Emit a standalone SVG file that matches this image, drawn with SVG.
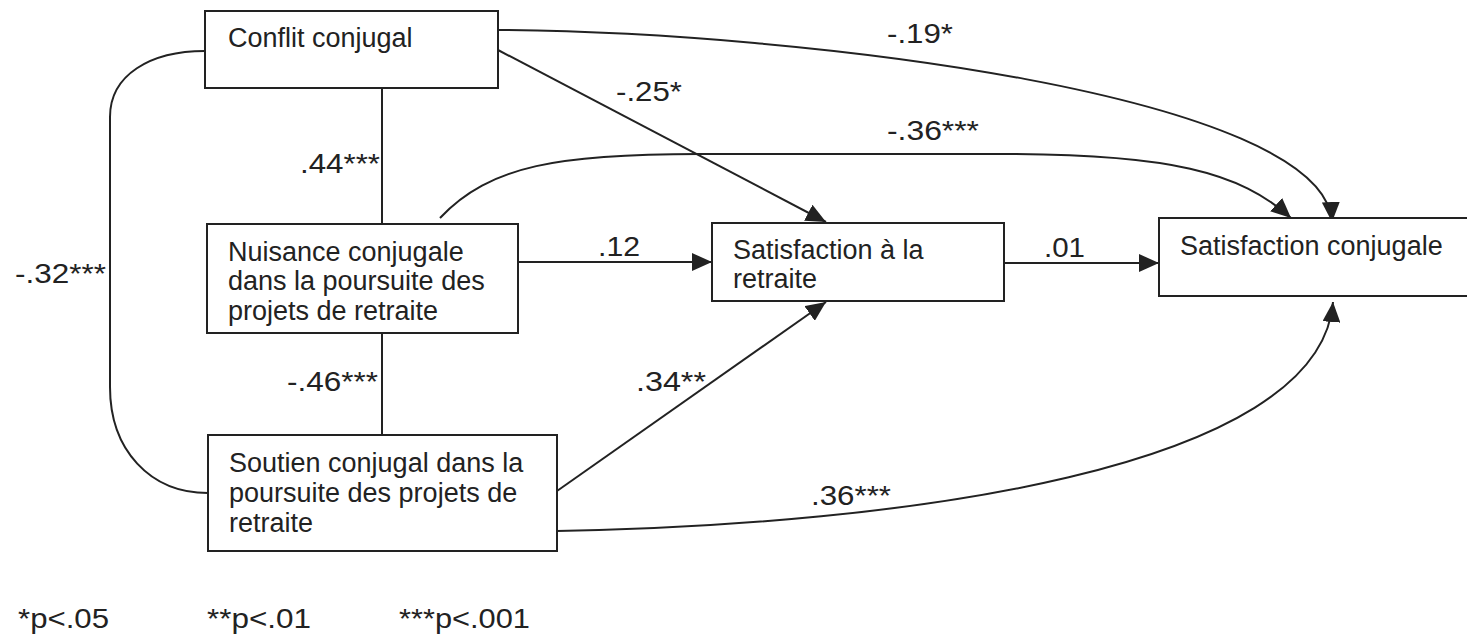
<svg xmlns="http://www.w3.org/2000/svg" width="1467" height="640" viewBox="0 0 1467 640">
<style>
.box{fill:#fff;stroke:#222;stroke-width:2}
.t{font-family:"Liberation Sans",Arial,sans-serif;font-size:27px;fill:#222}
.l{font-family:"Liberation Sans",Arial,sans-serif;font-size:28px;fill:#222}
.c{fill:none;stroke:#222;stroke-width:2}
</style>
<defs>
<marker id="ah" markerUnits="userSpaceOnUse" markerWidth="20" markerHeight="18" refX="20" refY="9" orient="auto" viewBox="0 0 20 18">
<path d="M0,0 L20,9 L0,18 z" fill="#222"/>
</marker>
</defs>
<rect width="1467" height="640" fill="#fff"/>
<g id="connectors">
<path class="c" d="M205,51 C150,51 110,75 110,117 L110,387 C110,450 150,493 208,493"/>
<path class="c" d="M382,88 L382,224"/>
<path class="c" d="M382,333 L382,435"/>
<path class="c" d="M498,30 C800,32 1325,95 1332,222" marker-end="url(#ah)"/>
<path class="c" d="M498,50 L826,222" marker-end="url(#ah)"/>
<path class="c" d="M440,218 C490,165 560,154 700,154 L1000,154 C1170,154 1240,172 1291,218" marker-end="url(#ah)"/>
<path class="c" d="M518,262 L712,262" marker-end="url(#ah)"/>
<path class="c" d="M1004,263 L1159,263" marker-end="url(#ah)"/>
<path class="c" d="M557,491 L826,302" marker-end="url(#ah)"/>
<path class="c" d="M557,531 C900,525 1320,470 1333,302" marker-end="url(#ah)"/>
<text class="l" x="300" y="173" textLength="80" lengthAdjust="spacingAndGlyphs">.44***</text>
<text class="l" x="15" y="283" textLength="91" lengthAdjust="spacingAndGlyphs">-.32***</text>
<text class="l" x="287" y="391" textLength="91" lengthAdjust="spacingAndGlyphs">-.46***</text>
<text class="l" x="616" y="101" textLength="66" lengthAdjust="spacingAndGlyphs">-.25*</text>
<text class="l" x="887" y="43" textLength="66" lengthAdjust="spacingAndGlyphs">-.19*</text>
<text class="l" x="887" y="140" textLength="92" lengthAdjust="spacingAndGlyphs">-.36***</text>
<text class="l" x="598" y="256" textLength="42" lengthAdjust="spacingAndGlyphs">.12</text>
<text class="l" x="1044" y="257" textLength="41" lengthAdjust="spacingAndGlyphs">.01</text>
<text class="l" x="636" y="391" textLength="70" lengthAdjust="spacingAndGlyphs">.34**</text>
<text class="l" x="811" y="505" textLength="80" lengthAdjust="spacingAndGlyphs">.36***</text>
</g>
<g id="conflit">
<rect class="box" x="205" y="11" width="293" height="77"/>
<text class="t" x="228" y="47">Conflit conjugal</text>
</g>
<g id="nuisance">
<rect class="box" x="207" y="224" width="311" height="109"/>
<text class="t" x="228" y="261">Nuisance conjugale</text>
<text class="t" x="228" y="290">dans la poursuite des</text>
<text class="t" x="228" y="320">projets de retraite</text>
</g>
<g id="soutien">
<rect class="box" x="208" y="435" width="349" height="116"/>
<text class="t" x="229" y="472">Soutien conjugal dans la</text>
<text class="t" x="229" y="502">poursuite des projets de</text>
<text class="t" x="229" y="532">retraite</text>
</g>
<g id="satretraite">
<rect class="box" x="712" y="223" width="292" height="78"/>
<text class="t" x="733" y="259">Satisfaction à la</text>
<text class="t" x="733" y="288">retraite</text>
</g>
<g id="satconj">
<rect class="box" x="1159" y="218" width="320" height="78"/>
<text class="t" x="1180" y="255">Satisfaction conjugale</text>
</g>
<g id="legend">
<text class="l" x="18" y="628" textLength="91" lengthAdjust="spacingAndGlyphs">*p&lt;.05</text>
<text class="l" x="207" y="628" textLength="104" lengthAdjust="spacingAndGlyphs">**p&lt;.01</text>
<text class="l" x="399" y="628" textLength="131" lengthAdjust="spacingAndGlyphs">***p&lt;.001</text>
</g>
</svg>
